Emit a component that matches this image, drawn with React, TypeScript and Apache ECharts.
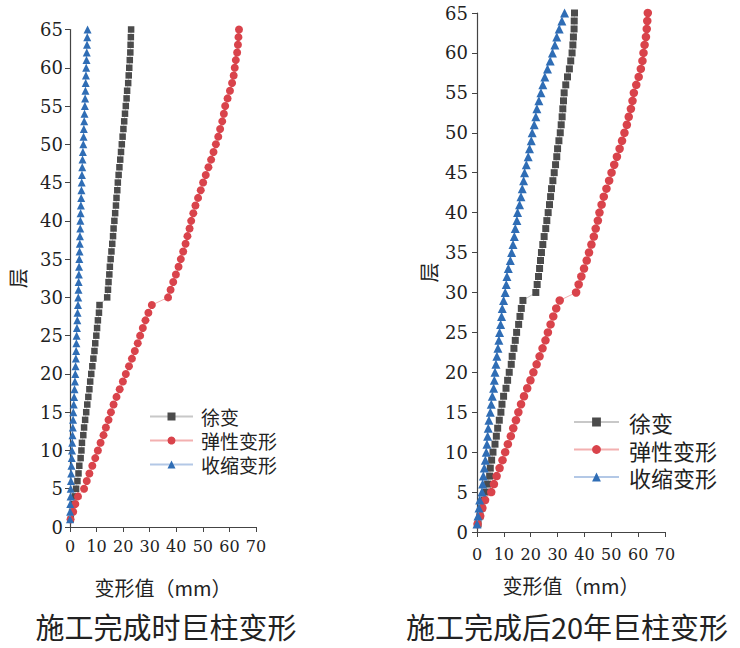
import React, { useEffect, useRef } from "react";
import * as echarts from "echarts";

const floors = [
  1, 2, 3, 4, 5, 6, 7, 8, 9, 10, 11, 12, 13, 14, 15, 16, 17, 18, 19, 20,
  21, 22, 23, 24, 25, 26, 27, 28, 29, 30, 31, 32, 33, 34, 35, 36, 37, 38, 39, 40,
  41, 42, 43, 44, 45, 46, 47, 48, 49, 50, 51, 52, 53, 54, 55, 56, 57, 58, 59, 60,
  61, 62, 63, 64, 65,
];

const seriesNames = ["徐变", "弹性变形", "收缩变形"];

// 施工完成时
const leftCreep = [
  0.3, 0.8, 1.3, 1.8, 2.3, 2.8, 3.2, 3.5, 4.0, 4.3, 4.5, 5.0, 5.3, 5.7, 6.1, 6.5, 6.9, 7.3, 7.6, 8.0,
  8.4, 8.8, 9.2, 9.5, 9.9, 10.2, 10.5, 10.9, 11.1, 14.0, 14.3, 14.5, 14.8, 15.0, 15.3, 15.6, 15.9, 16.2, 16.4, 16.7,
  17.0, 17.3, 17.5, 17.8, 18.0, 18.3, 18.6, 18.9, 19.2, 19.5, 19.8, 20.1, 20.4, 20.7, 21.0, 21.3, 21.5, 21.9, 22.1, 22.3,
  22.5, 22.7, 22.8, 22.9, 23.0,
];
const elastic = [
  0.2, 1.2, 2.0, 3.0, 5.3, 6.3, 7.3, 8.4, 9.5, 10.5, 11.5, 12.6, 13.5, 14.5, 15.4, 16.4, 17.5, 18.7, 19.9, 21.0,
  22.2, 23.3, 24.4, 25.5, 26.4, 27.4, 28.4, 29.5, 30.8, 36.9, 37.85, 38.85, 39.85, 40.85, 41.7, 42.6, 43.5, 44.2, 45.0, 45.6,
  46.4, 47.2, 48.2, 49.2, 50.1, 51.1, 52.1, 53.1, 54.0, 54.9, 55.8, 56.5, 57.3, 57.9, 58.4, 59.3, 60.2, 61.0, 61.6, 62.0,
  62.4, 62.9, 63.2, 63.4, 63.6,
];
const leftShrink = [
  0.0, 0.05, 0.1, 0.2, 0.25, 0.35, 0.45, 0.55, 0.65, 0.75, 0.85, 0.95, 1.05, 1.15, 1.25, 1.4, 1.55, 1.7, 1.85, 2.0,
  2.1, 2.2, 2.3, 2.4, 2.5, 2.6, 2.75, 2.85, 3.0, 3.1, 3.2, 3.25, 3.35, 3.4, 3.5, 3.6, 3.7, 3.75, 3.85, 3.9,
  4.0, 4.1, 4.2, 4.3, 4.4, 4.5, 4.6, 4.7, 4.85, 5.0, 5.1, 5.2, 5.35, 5.45, 5.6, 5.7, 5.8, 5.9, 6.0, 6.1,
  6.2, 6.3, 6.4, 6.5, 6.6,
];

// 施工完成后20年
const rightCreep = [
  0.4, 1.1, 1.8, 2.5, 3.2, 3.95, 4.7, 4.95, 5.45, 5.95, 6.7, 7.2, 7.7, 8.3, 8.9, 9.3, 9.9, 10.8, 11.4, 12.0,
  12.75, 13.1, 13.75, 14.25, 14.75, 15.5, 16.0, 16.5, 17.1, 21.9, 22.4, 22.9, 23.3, 23.65, 24.0, 24.5, 25.0, 25.6, 26.0, 26.5,
  27.0, 27.4, 27.75, 28.25, 28.75, 29.25, 29.7, 30.0, 30.5, 31.0, 31.35, 31.7, 31.95, 32.2, 32.45, 33.05, 33.7, 34.4, 34.9, 35.4,
  35.7, 35.9, 36.15, 36.2, 36.3,
];
const rightShrink = [
  0.0, 0.37, 0.74, 1.0, 1.85, 2.1, 2.35, 2.7, 3.1, 3.45, 3.7, 3.95, 4.2, 4.45, 4.95, 5.3, 5.7, 6.2, 6.45, 6.7,
  7.05, 7.4, 7.8, 8.15, 8.4, 8.8, 9.15, 9.4, 9.9, 10.5, 10.9, 11.15, 11.65, 12.4, 12.9, 13.4, 13.9, 14.25, 14.85, 15.1,
  15.85, 16.35, 16.85, 17.35, 17.7, 18.35, 19.05, 19.55, 20.2, 20.55, 21.3, 21.9, 22.3, 23.05, 23.8, 24.5, 25.25, 26.25, 27.25, 28.1,
  29.0, 29.7, 30.6, 31.6, 32.6,
];

const xTicks = [0, 10, 20, 30, 40, 50, 60, 70];
const yTicks = [0, 5, 10, 15, 20, 25, 30, 35, 40, 45, 50, 55, 60, 65];

const titles = ["施工完成时巨柱变形", "施工完成后20年巨柱变形"];
const xName = "变形值（mm）";
const yName = "层";

const CJK = "Noto Sans CJK SC";
const SERIF = "DejaVu Serif";

const styles = [
  { symbol: "rect", marker: "#4b4b4b", line: "#c8c8c8" },
  { symbol: "circle", marker: "#d9434b", line: "#f3b0b0" },
  { symbol: "triangle", marker: "#2f6db5", line: "#b3c8e6" },
];

function pairs(xs: number[]) {
  return xs.map((x, i) => [x, floors[i]]);
}

export default function App() {
  const ref = useRef<HTMLDivElement>(null);

  useEffect(() => {
    if (!ref.current) return;
    const chart = echarts.init(ref.current, undefined, { renderer: "svg" });

    const grids = [
      { left: 70, top: 29.5, width: 186, height: 497.5 },
      { left: 477, top: 13, width: 188, height: 519 },
    ];

    const axisCommon = {
      axisLine: { show: true, lineStyle: { color: "#444", width: 1.2 } },
      axisTick: { show: true, inside: false, length: 5, lineStyle: { color: "#444" } },
      splitLine: { show: false },
    };

    const xAxes = [0, 1].map((i) => ({
      type: "value",
      gridIndex: i,
      min: xTicks[0],
      max: xTicks[xTicks.length - 1],
      interval: 10,
      ...axisCommon,
      axisLabel: {
        margin: i === 0 ? 11 : 14,
        fontFamily: SERIF,
        fontSize: 16,
        color: "#222",
      },
      name: xName,
      nameLocation: "middle",
      nameGap: i === 0 ? 50 : 43,
      nameTextStyle: { fontFamily: CJK, fontSize: 20, color: "#222" },
    }));

    const yAxes = [0, 1].map((i) => ({
      type: "value",
      gridIndex: i,
      min: yTicks[0],
      max: yTicks[yTicks.length - 1],
      interval: 5,
      ...axisCommon,
      axisLabel: {
        margin: i === 0 ? 7 : 9,
        fontFamily: SERIF,
        fontSize: 18,
        color: "#222",
      },
      name: yName,
      nameLocation: "middle",
      nameRotate: 90,
      nameGap: i === 0 ? 43 : 39,
      nameTextStyle: { fontFamily: CJK, fontSize: 20, color: "#222" },
    }));

    const data = [
      [leftCreep, elastic, leftShrink],
      [rightCreep, elastic, rightShrink],
    ];
    const sizes = [
      [6.5, 8, 8],
      [7, 8.5, 9],
    ];

    const series: any[] = [];
    [0, 1].forEach((g) => {
      seriesNames.forEach((name, k) => {
        series.push({
          type: "line",
          name,
          xAxisIndex: g,
          yAxisIndex: g,
          data: pairs(data[g][k]),
          symbol: styles[k].symbol,
          symbolSize: sizes[g][k],
          showSymbol: true,
          lineStyle: { color: styles[k].line, width: 1 },
          itemStyle: { color: styles[k].marker },
          z: 2 + k,
        });
      });
    });

    chart.setOption({
      animation: false,
      backgroundColor: "#fff",
      grid: grids,
      xAxis: xAxes,
      yAxis: yAxes,
      legend: [
        {
          data: seriesNames,
          orient: "vertical",
          left: 144,
          top: 402,
          itemWidth: 43,
          itemHeight: 10,
          itemGap: 5,
          align: "left",
          textStyle: {
            fontFamily: CJK,
            fontSize: 19,
            lineHeight: 19,
            color: "#222",
            padding: [0, 0, 0, 3],
          },
        },
        {
          data: seriesNames,
          orient: "vertical",
          left: 568,
          top: 406,
          itemWidth: 45,
          itemHeight: 11,
          itemGap: 5.5,
          align: "left",
          textStyle: {
            fontFamily: CJK,
            fontSize: 22,
            lineHeight: 22,
            color: "#222",
            padding: [0, 0, 0, 5],
          },
        },
      ],
      graphic: [
        {
          type: "text",
          x: 166,
          y: 626,
          style: {
            text: titles[0],
            fontFamily: CJK,
            fontSize: 29,
            fill: "#222",
            align: "center",
            verticalAlign: "middle",
            textAlign: "center",
            textVerticalAlign: "middle",
          },
        },
        {
          type: "text",
          x: 567,
          y: 626,
          style: {
            text: titles[1],
            fontFamily: CJK,
            fontSize: 29,
            fill: "#222",
            align: "center",
            verticalAlign: "middle",
            textAlign: "center",
            textVerticalAlign: "middle",
          },
        },
      ],
      series,
    });

    return () => chart.dispose();
  }, []);

  return (
    <div
      ref={ref}
      style={{ position: "fixed", left: 0, top: 0, width: 740, height: 648 }}
    />
  );
}
